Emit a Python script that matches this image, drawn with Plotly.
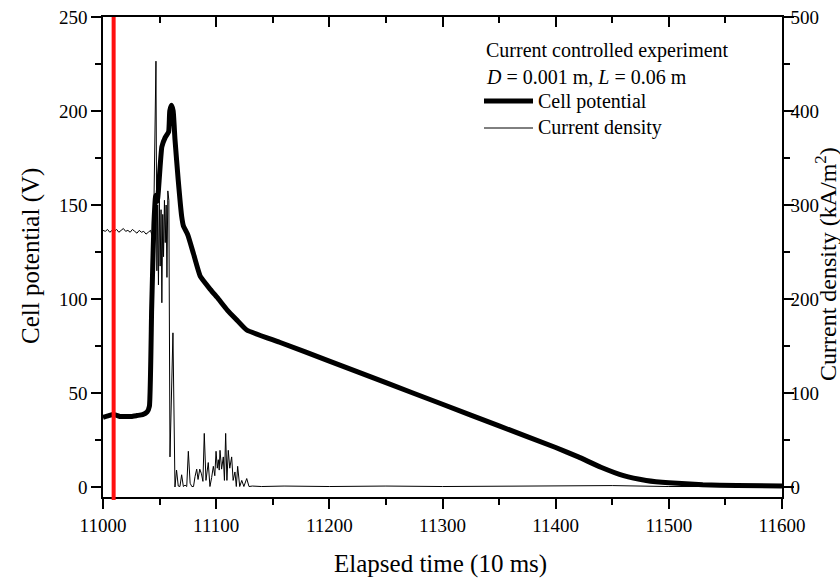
import plotly.graph_objects as go

# ---------------- data ----------------
cell_t = [11000, 11005, 11010, 11015, 11020, 11025, 11030, 11035, 11039, 11041,
          11043, 11045, 11046.5, 11048, 11049, 11052, 11055, 11058, 11059, 11060.5,
          11062, 11063.6, 11066.5, 11069.5, 11071, 11075, 11080, 11086, 11095, 11102,
          11110, 11118, 11127, 11156, 11200, 11250, 11300, 11350, 11400, 11420,
          11440, 11460, 11480, 11500, 11530, 11560, 11600]
cell_v = [37, 38, 38.5, 37.5, 37.5, 37.5, 38, 38.5, 40, 43,
          95, 140, 155, 152, 158, 181, 186, 189, 200, 203,
          200, 185, 163, 144, 139, 134, 124, 112, 105, 100,
          94, 89, 83.5, 77, 67, 55.5, 44, 32.5, 21, 16,
          10.5, 6, 3.5, 2.2, 1.2, 0.8, 0.5]

cd_t = [11000, 11002, 11004, 11006, 11008, 11010, 11012, 11014, 11016, 11018,
        11020, 11022, 11024, 11026, 11028, 11030, 11032, 11034, 11036, 11038,
        11040, 11042, 11044, 11045, 11046.8, 11047.6, 11048.3, 11049, 11049.8, 11050.5,
        11051.3, 11052, 11052.8, 11053.5, 11054.3, 11055, 11055.8, 11056.5, 11057.3, 11058.2,
        11059.2, 11060.5, 11061.8, 11063.6, 11065, 11066.5, 11068, 11069.5, 11071, 11072.5,
        11074, 11075.4, 11077, 11078.5, 11080, 11081.3, 11082.8, 11084, 11085.5, 11087,
        11088.3, 11089.5, 11091, 11093, 11094.5, 11096, 11097.5, 11098.8, 11099.9, 11101,
        11101.9, 11102.7, 11103.4, 11104.8, 11106.3, 11107.3, 11108.4, 11109.5, 11110.7, 11112,
        11113.7, 11115, 11116.6, 11117.8, 11119, 11120.8, 11122.6, 11124.5, 11127, 11129,
        11132, 11140, 11160, 11200, 11250, 11300, 11350, 11400, 11450, 11500,
        11550, 11600]
cd_v = [273, 272, 274, 271, 273, 272, 274, 271, 273, 275,
        272, 273, 271, 274, 272, 270, 273, 271, 272, 269,
        271, 273, 265, 300, 453, 230, 300, 215, 305, 235,
        295, 196, 290, 245, 305, 260, 300, 223, 315, 305,
        32, 120, 164, 0, 18, 1, 0.5, 13, 0.5, 2,
        0.5, 38, 4, 0.5, 0.5, 11, 19, 8, 19, 14,
        6, 57, 7, 26, 0.5, 10, 22, 12, 38, 20,
        29, 18, 39, 19, 32, 7, 57, 7, 39, 20,
        32, 7, 16, 0.5, 22, 0.5, 7, 0.5, 9, 0.5,
        1, 0.5, 1, 0.5, 1, 0.5, 1, 1.5, 1.5, 0.5,
        0.5, 0.5]
assert len(cell_t) == len(cell_v)
assert len(cd_t) == len(cd_v)

marker_time = [11009.4]

x_range = [11000, 11600]
y1_range = [-5.32, 250]
y2_range = [-10.64, 500]

FONT = "Liberation Serif"

fig = go.Figure()
fig.add_trace(go.Scatter(x=cell_t, y=cell_v, mode="lines", name="Cell potential",
                         line=dict(color="black", width=5, shape="spline", smoothing=0.4),
                         showlegend=False))
fig.add_trace(go.Scatter(x=cd_t, y=cd_v, mode="lines", name="Current density",
                         yaxis="y2", line=dict(color="black", width=1), showlegend=False))
# dummy trace for top mirrored axis
fig.add_trace(go.Scatter(x=[None], y=[None], xaxis="x2", yaxis="y", showlegend=False,
                         hoverinfo="skip"))

for t in marker_time:
    fig.add_shape(type="line", xref="x", yref="paper", x0=t, x1=t, y0=-0.006, y1=1,
                  line=dict(color="#ff1010", width=4), layer="above")

common_tick = dict(tickfont=dict(family=FONT, size=19, color="black"),
                   showgrid=False, zeroline=False, showline=True, automargin=False,
                   linecolor="black", linewidth=1.5, tickcolor="black", tickwidth=1.5)

fig.update_layout(
    width=840, height=578,
    margin=dict(l=103, r=58, t=17, b=81),
    paper_bgcolor="white", plot_bgcolor="white",
    font=dict(family=FONT, color="black"),
    xaxis=dict(range=x_range, tickmode="linear", tick0=11000, dtick=100,
               tickformat="d", ticks="outside", ticklen=10,
               minor=dict(ticks="outside", ticklen=6, dtick=50, tick0=11000,
                          tickcolor="black", tickwidth=1.5, showgrid=False),
               **common_tick),
    xaxis2=dict(range=x_range, overlaying="x", side="top", anchor="y", matches="x",
                tickmode="linear", tick0=11000, dtick=100, ticks="inside", ticklen=10,
                showticklabels=False,
                minor=dict(ticks="inside", ticklen=6, dtick=50, tick0=11000,
                           tickcolor="black", tickwidth=1.5, showgrid=False),
                **common_tick),
    yaxis=dict(range=y1_range, tickmode="linear", tick0=0, dtick=50,
               ticks="outside", ticklen=10,
               minor=dict(ticks="outside", ticklen=6, dtick=25, tick0=0,
                          tickcolor="black", tickwidth=1.5, showgrid=False),
               **common_tick),
    yaxis2=dict(range=y2_range, overlaying="y", side="right", anchor="x",
                tickmode="linear", tick0=0, dtick=100,
                ticks="outside", ticklen=10, ticklabelstandoff=-7,
                minor=dict(ticks="outside", ticklen=6, dtick=50, tick0=0,
                           tickcolor="black", tickwidth=1.5, showgrid=False),
                **common_tick),
    showlegend=False,
)

# ---- helpers: pixel -> paper coordinates ----
def px_x(p):
    return (p - 103) / 679.0

def px_y(p):
    return (497 - p) / 480.0

# axis titles
fig.add_annotation(text="Elapsed time (10 ms)", xref="paper", yref="paper",
                   x=px_x(440), y=px_y(564), xanchor="center", yanchor="middle",
                   showarrow=False, font=dict(family=FONT, size=25, color="black"))
fig.add_annotation(text="Cell potential (V)", xref="paper", yref="paper",
                   x=px_x(31), y=px_y(256), xanchor="center", yanchor="middle",
                   textangle=-90, showarrow=False,
                   font=dict(family=FONT, size=25, color="black"))
fig.add_annotation(text="Current density (kA/m<sup>2</sup>)", xref="paper", yref="paper",
                   x=px_x(826), y=px_y(264), xanchor="center", yanchor="middle",
                   textangle=-90, showarrow=False,
                   font=dict(family=FONT, size=24, color="black"))

# legend built from annotations + sample lines
legend_lines = [
    ("Current controlled experiment", 484, 51),
    ("<i>D</i> = 0.001 m, <i>L</i> = 0.06 m", 484, 77),
    ("Cell potential", 536, 101),
    ("Current density", 536, 128),
]
for txt, xp, yp in legend_lines:
    fig.add_annotation(text=txt, xref="paper", yref="paper", x=px_x(xp), y=px_y(yp),
                       xanchor="left", yanchor="middle", showarrow=False,
                       font=dict(family=FONT, size=20, color="black"))
fig.add_shape(type="line", xref="paper", yref="paper", x0=px_x(484), x1=px_x(533),
              y0=px_y(101), y1=px_y(101), line=dict(color="black", width=5))
fig.add_shape(type="line", xref="paper", yref="paper", x0=px_x(484), x1=px_x(533),
              y0=px_y(128), y1=px_y(128), line=dict(color="black", width=1))

fig.write_html("out.html")
